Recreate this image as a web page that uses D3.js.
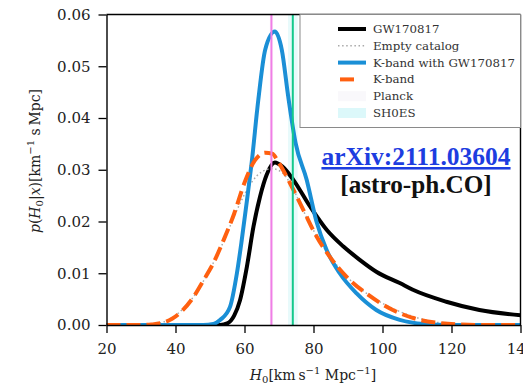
<!DOCTYPE html>
<html>
<head>
<meta charset="utf-8">
<script src="https://cdn.jsdelivr.net/npm/d3@7"></script>
<style>
  html, body { margin: 0; padding: 0; background: #fff; }
  svg { display: block; }
</style>
</head>
<body>
<svg id="chart" width="523" height="386"></svg>
<script>
// H0 posterior curves: [H0, p(H0|x)] pairs
const gw170817 = [[20,0],[50,0],[53,0],[55,0.0003],[57,0.0018],[58.7,0.0048],[60.7,0.0113],[62.6,0.019],[64.5,0.0248],[66.4,0.0290],[68.8,0.0314],[71,0.0306],[74.1,0.0281],[79,0.0229],[83.8,0.0184],[88.6,0.0152],[93.4,0.0126],[98.2,0.0103],[105,0.0081],[108.8,0.0068],[118.5,0.0045],[128.1,0.0029],[140,0.0019]];
const emptyCatalog = [[20,0],[30,0],[34,0.0002],[38,0.0010],[42,0.0030],[46,0.0062],[50,0.0108],[54,0.0162],[58,0.0225],[62,0.0275],[65,0.0296],[68,0.0302],[71,0.0294],[74,0.0264],[78,0.0208],[82,0.0160],[86,0.0122],[90,0.0091],[95,0.0063],[100,0.0042],[105,0.0026],[110,0.0014],[115,0.0006],[120,0.0002],[128,0],[140,0]];
const kbandWithGW = [[20,0],[48,0],[51,0.0002],[53,0.0010],[55.8,0.0035],[57.8,0.0100],[59.2,0.0164],[60.7,0.0240],[62.1,0.0315],[64,0.0435],[66,0.0532],[68.8,0.0567],[70.8,0.0532],[72.7,0.0440],[74.8,0.0352],[78,0.0281],[80.9,0.0199],[83.8,0.0145],[87.6,0.0100],[92.5,0.0061],[98.2,0.0029],[105,0.0010],[112,0.0002],[120,0],[140,0]];
const kband = [[20,0],[30,0],[33,0.0001],[36,0.0004],[39,0.0012],[42,0.0028],[45,0.0052],[48,0.0085],[51,0.0120],[54,0.0165],[57,0.0215],[60,0.0275],[63,0.0318],[66,0.0333],[68,0.0331],[70,0.0313],[73.2,0.0274],[77,0.0223],[80.9,0.0171],[84.7,0.0132],[89.6,0.0093],[95.3,0.0061],[103,0.0029],[110.8,0.0010],[116,0.0004],[122,0.0001],[130,0],[140,0]];

// reference H0 measurements: [central, half-width]
const planck = [67.8, 0.5];
const shoes = [74.0, 1.4];

const xTicks = [20, 40, 60, 80, 100, 120, 140];
const yTicks = [0, 0.01, 0.02, 0.03, 0.04, 0.05, 0.06];

const legendLabels = ["GW170817", "Empty catalog", "K-band with GW170817", "K-band", "Planck", "SH0ES"];

const svg = d3.select("#chart");
const x = d3.scaleLinear().domain([20, 140]).range([106.5, 520.5]);
const y = d3.scaleLinear().domain([0, 0.06]).range([325, 14.5]);

const serif = "'DejaVu Serif', serif";

// clip for plot contents
svg.append("defs").append("clipPath").attr("id", "plotclip")
  .append("rect").attr("x", x(20)).attr("y", y(0.06)).attr("width", x(140) - x(20)).attr("height", y(0) - y(0.06));

const plot = svg.append("g").attr("clip-path", "url(#plotclip)");

// measurement bands
plot.append("rect").attr("x", x(planck[0] - planck[1])).attr("width", x(planck[0] + planck[1]) - x(planck[0] - planck[1]))
  .attr("y", y(0.06)).attr("height", y(0) - y(0.06)).attr("fill", "#fbf7fb");
plot.append("rect").attr("x", x(shoes[0] - shoes[1])).attr("width", x(shoes[0] + shoes[1]) - x(shoes[0] - shoes[1]))
  .attr("y", y(0.06)).attr("height", y(0) - y(0.06)).attr("fill", "#e8fafb");

const line = d3.line().x(d => x(d[0])).y(d => y(d[1])).curve(d3.curveMonotoneX);

plot.append("path").datum(gw170817).attr("d", line).attr("fill", "none")
  .attr("stroke", "#000").attr("stroke-width", 4);
plot.append("path").datum(emptyCatalog).attr("d", line).attr("fill", "none")
  .attr("stroke", "#a9a9a9").attr("stroke-width", 1.5).attr("stroke-dasharray", "1.5,2.6");
plot.append("path").datum(kbandWithGW).attr("d", line).attr("fill", "none")
  .attr("stroke", "#1a8fd6").attr("stroke-width", 4);
plot.append("path").datum(kband).attr("d", line).attr("fill", "none")
  .attr("stroke", "#ff6010").attr("stroke-width", 4).attr("stroke-dasharray", "14,6");

// measurement lines
plot.append("line").attr("x1", x(planck[0])).attr("x2", x(planck[0])).attr("y1", y(0)).attr("y2", y(0.06))
  .attr("stroke", "#f07ee6").attr("stroke-width", 2);
plot.append("line").attr("x1", x(shoes[0])).attr("x2", x(shoes[0])).attr("y1", y(0)).attr("y2", y(0.06))
  .attr("stroke", "#14c98c").attr("stroke-width", 2);

// axes
const xAxis = svg.append("g").attr("transform", `translate(0,${y(0)})`)
  .call(d3.axisBottom(x).tickValues(xTicks).tickFormat(d3.format("d")).tickSizeInner(8).tickSizeOuter(0).tickPadding(10));
const yAxis = svg.append("g").attr("transform", `translate(${x(20)},0)`)
  .call(d3.axisLeft(y).tickValues(yTicks).tickFormat(d3.format(".2f")).tickSizeInner(8).tickSizeOuter(0).tickPadding(8));
[xAxis, yAxis].forEach(a => {
  a.selectAll("path.domain").attr("stroke", "#000").attr("stroke-width", 1.4);
  a.selectAll(".tick line").attr("stroke", "#000").attr("stroke-width", 1.3);
  a.selectAll("text").attr("font-family", serif).attr("font-size", 15).attr("fill", "#222");
});

// top and right spines
svg.append("line").attr("x1", x(20)).attr("x2", x(140)).attr("y1", y(0.06)).attr("y2", y(0.06)).attr("stroke", "#000").attr("stroke-width", 1.4);
svg.append("line").attr("x1", x(140)).attr("x2", x(140)).attr("y1", y(0.06)).attr("y2", y(0)).attr("stroke", "#000").attr("stroke-width", 1.4);

// axis labels
const xl = svg.append("text").attr("x", 313).attr("y", 380).attr("text-anchor", "middle")
  .attr("font-family", serif).attr("font-size", 14).attr("fill", "#222");
xl.append("tspan").attr("font-style", "italic").text("H");
xl.append("tspan").attr("font-size", 10).attr("dy", 3).text("0");
xl.append("tspan").attr("dy", -3).text("[km\u2009s");
xl.append("tspan").attr("font-size", 10).attr("dy", -6).text("\u22121");
xl.append("tspan").attr("dy", 6).text(" Mpc");
xl.append("tspan").attr("font-size", 10).attr("dy", -6).text("\u22121");
xl.append("tspan").attr("dy", 6).text("]");

const yl = svg.append("text").attr("transform", "translate(40,161) rotate(-90)").attr("text-anchor", "middle")
  .attr("font-family", serif).attr("font-size", 14).attr("fill", "#222");
yl.append("tspan").attr("font-style", "italic").text("p");
yl.append("tspan").text("(");
yl.append("tspan").attr("font-style", "italic").text("H");
yl.append("tspan").attr("font-size", 10).attr("dy", 3).text("0");
yl.append("tspan").attr("dy", -3).text("|");
yl.append("tspan").attr("font-style", "italic").text("x");
yl.append("tspan").text(")[km");
yl.append("tspan").attr("font-size", 10).attr("dy", -6).text("\u22121");
yl.append("tspan").attr("dy", 6).text(" s\u2009Mpc]");

// legend
const lg = svg.append("g");
lg.append("rect").attr("x", 300).attr("y", 14.5).attr("width", 220.5).attr("height", 113)
  .attr("fill", "#fff").attr("stroke", "#8a8a8a").attr("stroke-width", 1);
const rowY = i => 29 + i * 16.8;
const hx0 = 338, hx1 = 366;
lg.append("line").attr("x1", hx0).attr("x2", hx1).attr("y1", rowY(0)).attr("y2", rowY(0)).attr("stroke", "#000").attr("stroke-width", 4);
lg.append("line").attr("x1", hx0).attr("x2", hx1).attr("y1", rowY(1)).attr("y2", rowY(1)).attr("stroke", "#a9a9a9").attr("stroke-width", 1.5).attr("stroke-dasharray", "1.5,2.6");
lg.append("line").attr("x1", hx0).attr("x2", hx1).attr("y1", rowY(2)).attr("y2", rowY(2)).attr("stroke", "#1a8fd6").attr("stroke-width", 4);
lg.append("line").attr("x1", hx0 + 2).attr("x2", hx1).attr("y1", rowY(3)).attr("y2", rowY(3)).attr("stroke", "#ff6010").attr("stroke-width", 4).attr("stroke-dasharray", "14,40");
lg.append("rect").attr("x", hx0).attr("y", rowY(4) - 5).attr("width", hx1 - hx0).attr("height", 10).attr("fill", "#f9f8fb");
lg.append("rect").attr("x", hx0).attr("y", rowY(5) - 5).attr("width", hx1 - hx0).attr("height", 10).attr("fill", "#dcf8fa");
lg.selectAll("text.lab").data(legendLabels).join("text").attr("class", "lab")
  .attr("x", 373).attr("y", (d, i) => rowY(i) + 4)
  .attr("font-family", serif).attr("font-size", 11.8).attr("fill", "#333").text(d => d);

// reference annotation
svg.append("text").attr("x", 416).attr("y", 165).attr("text-anchor", "middle")
  .attr("font-family", "'Liberation Serif', 'Times New Roman', serif").attr("font-weight", "bold")
  .attr("font-size", 25.5).attr("fill", "#1d3de0").attr("text-decoration", "underline")
  .text("arXiv:2111.03604");
svg.append("text").attr("x", 416).attr("y", 193).attr("text-anchor", "middle")
  .attr("font-family", "'Liberation Serif', 'Times New Roman', serif").attr("font-weight", "bold")
  .attr("font-size", 25.2).attr("fill", "#111")
  .text("[astro-ph.CO]");
</script>
</body>
</html>
